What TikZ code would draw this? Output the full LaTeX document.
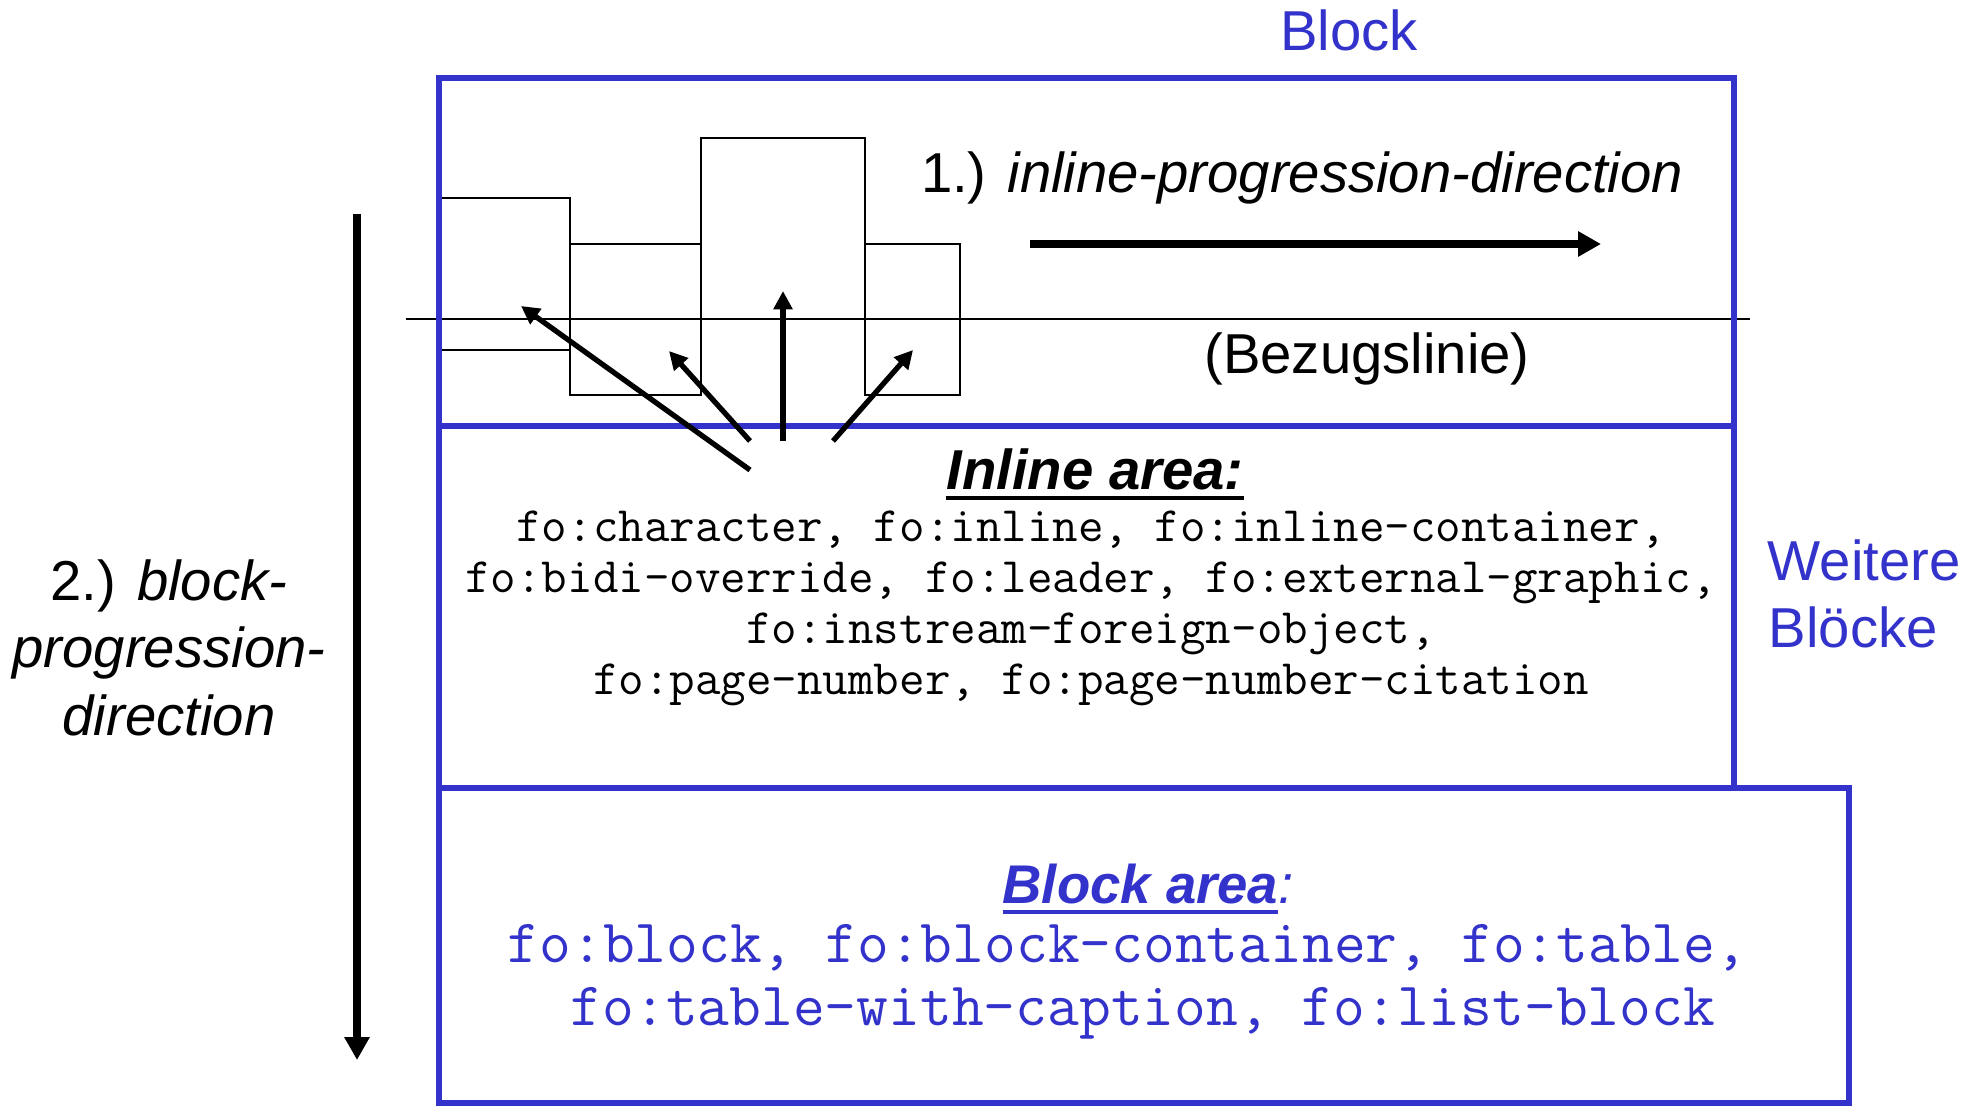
\documentclass[tikz,border=0pt]{standalone}
\usepackage{fontspec}
\setmainfont{Liberation Sans}
\usetikzlibrary{arrows.meta}
\definecolor{foblue}{RGB}{51,51,204}
\newcommand\myul[1]{\leavevmode\setbox0\hbox{#1}\rlap{\rule[-3.1pt]{\wd0}{1.2pt}}\box0}
\begin{document}
\begin{tikzpicture}[x=0.01cm,y=-0.01cm,
  thinbox/.style={draw=black, line width=0.55pt},
  bluebox/.style={draw=foblue, line width=1.5pt},
  ptr/.style={line width=1.5pt, -{Triangle[length=5.2pt,width=5.2pt]}},
  dirarrow/.style={line width=2.1pt, -{Triangle[length=6.5pt,width=6.8pt]}},
  txt/.style={inner sep=0pt, font=\fontsize{16pt}{19pt}\selectfont},
  monoA/.style={inner sep=0pt, font=\ttfamily\fontsize{14.1pt}{16pt}\selectfont},
  monoB/.style={inner sep=0pt, text=foblue, font=\ttfamily\fontsize{17.55pt}{20pt}\selectfont}]
\useasboundingbox (0,0) rectangle (1977,1106);
% inline area boxes and baseline
\draw[thinbox] (439,198) rectangle (570,350);
\draw[thinbox] (570,244) rectangle (701,395);
\draw[thinbox] (701,138) rectangle (865,319);
\draw[thinbox] (865,244) rectangle (960,395);
\draw[thinbox] (406,319) -- (1750,319);
% blue boxes
\draw[bluebox] (439,78) rectangle (1734,426);
\draw[bluebox] (439,426) rectangle (1734,788);
\draw[bluebox] (439,788) rectangle (1849,1103);
% texts
\node[txt, text=foblue, anchor=base] (blocklbl) at (1349,50) {Block};
\node[txt, anchor=base] (ipd) at (1302,192) {1.) \textit{inline-progression-direction}};
\node[txt, anchor=base] (bez) at (1367,373) {(Bezugslinie)};
\node[txt, anchor=base] (inl) at (1095,489) {\myul{\textbf{\textit{Inline area:}}}};
\node[monoA, anchor=base] (i1) at (1091,541) {fo:character, fo:inline, fo:inline-container,};
\node[monoA, anchor=base] (i2) at (1091,592) {fo:bidi-override, fo:leader, fo:external-graphic,};
\node[monoA, anchor=base] (i3) at (1091,643) {fo:instream-foreign-object,};
\node[monoA, anchor=base] (i4) at (1091,694) {fo:page-number, fo:page-number-citation};
\node[txt, text=foblue, anchor=base, font=\fontsize{15.5pt}{19pt}\selectfont] (bla) at (1148,903) {\myul{\textbf{\textit{Block area}}}\textit{:}};
\node[monoB, anchor=base west] (b1) at (507,962) {fo:block, fo:block-container, fo:table,};
\node[monoB, anchor=base west] (b2) at (570,1025) {fo:table-with-caption, fo:list-block};
\node[txt, anchor=base] (l1) at (169,600) {2.) \textit{block-}};
\node[txt, anchor=base] (l2) at (169,667) {\textit{progression-}};
\node[txt, anchor=base] (l3) at (169,735) {\textit{direction}};
\node[txt, text=foblue, anchor=base west] (w1) at (1767,580) {Weitere};
\node[txt, text=foblue, anchor=base west] (w2) at (1768,647) {Blöcke};
% arrows
\coordinate (a1s) at (750,470); \coordinate (a1e) at (521,306);
\coordinate (a2s) at (750,441); \coordinate (a2e) at (669,351);
\coordinate (a3s) at (783,441); \coordinate (a3e) at (783,291);
\coordinate (a4s) at (833,441); \coordinate (a4e) at (913,350);
\draw[ptr] (a1s) -- (a1e);
\draw[ptr] (a2s) -- (a2e);
\draw[ptr] (a3s) -- (a3e);
\draw[ptr] (a4s) -- (a4e);
\coordinate (ips) at (1030,244); \coordinate (ipe) at (1601,244);
\draw[dirarrow] (ips) -- (ipe);
\coordinate (bps) at (357,214); \coordinate (bpe) at (357,1060);
\draw[dirarrow] (bps) -- (bpe);
\end{tikzpicture}
\end{document}
